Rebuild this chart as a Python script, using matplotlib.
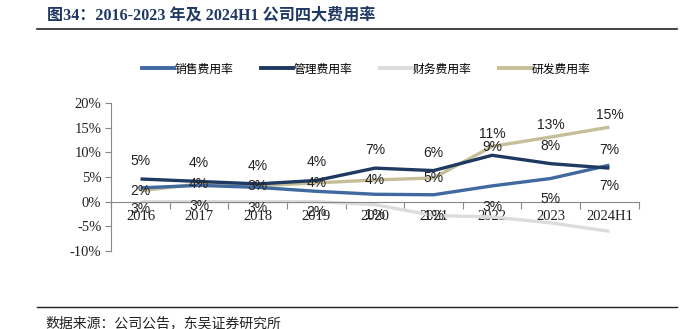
import matplotlib.pyplot as plt
from matplotlib.lines import Line2D

plt.rcParams['font.family'] = ['Liberation Sans', 'Noto Sans CJK SC']

years = ['2016', '2017', '2018', '2019', '2020', '2021', '2022', '2023', '2024H1']
sales = [2.8, 3.3, 2.9, 2.1, 1.5, 1.4, 3.2, 4.7, 7.4]
mgmt = [4.6, 4.1, 3.6, 4.3, 6.8, 6.3, 9.4, 7.7, 6.8]
finance = [0.0, 0.0, 0.0, 0.0, -0.6, -2.8, -3.1, -4.3, -6.0]
rnd = [2.2, 3.6, 3.2, 3.8, 4.4, 4.8, 11.2, 13.1, 15.1]

sales_lbl = ['3%', '3%', '3%', '2%', '1%', '1%', '3%', '5%', '7%']
mgmt_lbl = ['5%', '4%', '4%', '4%', '7%', '6%', '9%', '8%', '7%']
rnd_lbl = ['2%', '4%', '3%', '4%', '4%', '5%', '11%', '13%', '15%']

c_sales = '#4069A0'
c_mgmt = '#1F3A62'
c_fin = '#DCDCDC'
c_rnd = '#C6BE98'
navy = '#1F3864'
serif = ['Liberation Serif', 'Noto Sans CJK SC']

fig = plt.figure(figsize=(6.95, 3.29), dpi=100)
ax = fig.add_axes([0.160, 0.237, 0.759, 0.45])

x = list(range(len(years)))
ax.plot(x, finance, color=c_fin, lw=2.4, solid_capstyle='butt')
ax.plot(x, rnd, color=c_rnd, lw=2.4, solid_capstyle='butt')
ax.plot(x, sales, color=c_sales, lw=2.4, solid_capstyle='butt')
ax.plot(x, mgmt, color=c_mgmt, lw=2.4, solid_capstyle='butt')

# etiquetas de datos
for i in x:
    ax.annotate(sales_lbl[i], (i, sales[i]), xytext=(0, -15), textcoords='offset points',
                ha='center', va='center', fontsize=10, color='#222222')
    dm = 6 if i == 6 else 13
    ax.annotate(mgmt_lbl[i], (i, mgmt[i]), xytext=(0, dm), textcoords='offset points',
                ha='center', va='center', fontsize=10, color='#222222')
    dy = 9 if i >= 6 else 0
    ax.annotate(rnd_lbl[i], (i, rnd[i]), xytext=(0, dy), textcoords='offset points',
                ha='center', va='center', fontsize=10, color='#222222')

ax.set_xlim(-0.5, 8.5)
ax.set_ylim(-10, 20)
ax.set_yticks([-10, -5, 0, 5, 10, 15, 20])
ax.set_yticklabels(['%d%%' % v for v in [-10, -5, 0, 5, 10, 15, 20]])

ax.set_xticks([i - 0.5 for i in range(10)])
ax.set_xticklabels([])
ax.set_xticks(x, minor=True)
ax.set_xticklabels(years, minor=True)
ax.tick_params(axis='both', which='both', labelfontfamily=serif, labelsize=10.5,
               labelcolor='#222222')
ax.tick_params(axis='x', which='major', length=5, color='#888888', direction='out')
ax.tick_params(axis='x', which='minor', length=0, pad=6)
ax.tick_params(axis='y', length=4, color='#888888', pad=3)

for s in ['top', 'right']:
    ax.spines[s].set_visible(False)
ax.spines['bottom'].set_position(('data', 0))
ax.spines['bottom'].set_color('#888888')
ax.spines['left'].set_color('#888888')

handles = [Line2D([], [], color=c, lw=2.8) for c in [c_sales, c_mgmt, c_fin, c_rnd]]
fig.legend(handles, ['销售费用率', '管理费用率', '财务费用率', '研发费用率'],
           loc='center', bbox_to_anchor=(0.527, 0.79), ncol=4, frameon=False,
           prop={'family': 'Noto Sans CJK SC', 'size': 8.5}, handlelength=2.7,
           columnspacing=2.3, handletextpad=0.1)

fig.text(0.068, 0.955, '图34：2016-2023 年及 2024H1 公司四大费用率', fontsize=11.6,
         fontweight='bold', color=navy, va='center', family=serif)
fig.add_artist(Line2D([0.053, 0.974], [0.911, 0.911], color='#222222', lw=1.2))
fig.add_artist(Line2D([0.053, 0.974], [0.067, 0.067], color='#222222', lw=1.0))
fig.text(0.065, 0.018, '数据来源：公司公告，东吴证券研究所', fontsize=10,
         color='#222222', va='center', family='Noto Sans CJK SC')

fig.savefig('out.png', dpi=100)
